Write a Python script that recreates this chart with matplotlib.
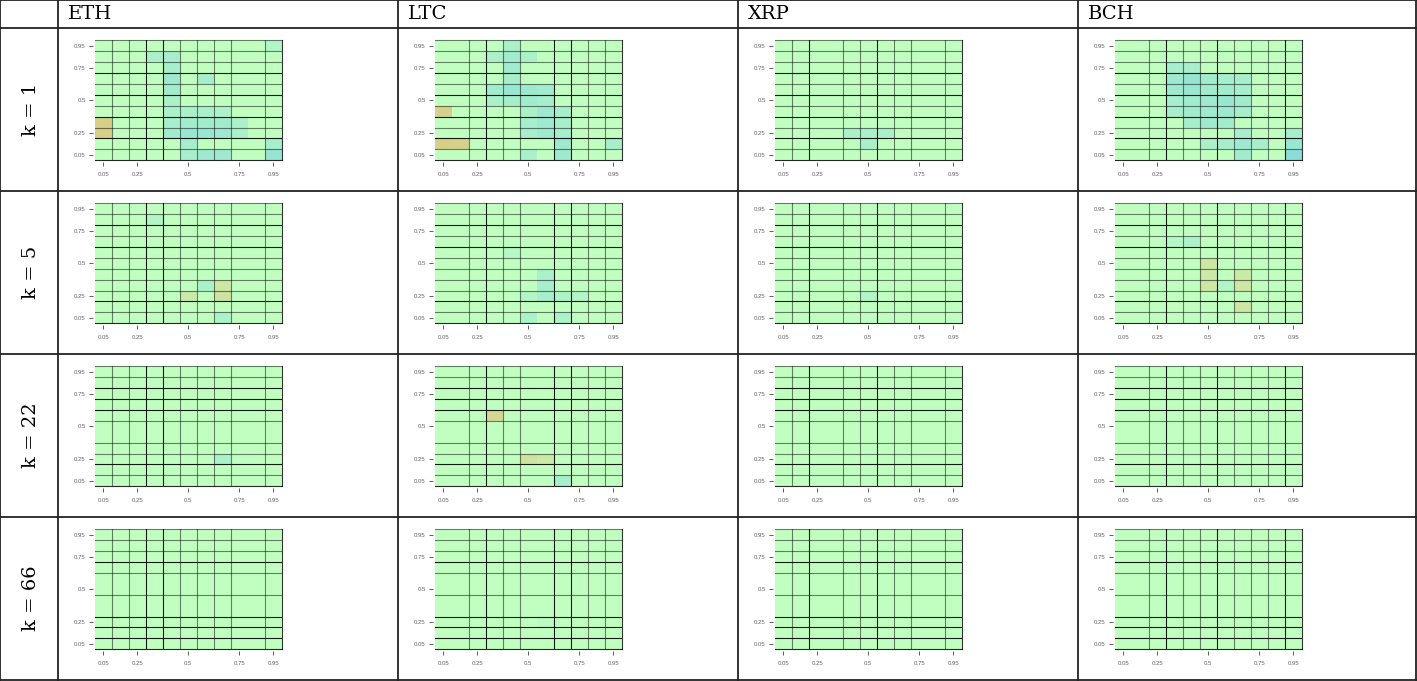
import matplotlib.pyplot as plt
import numpy as np
from matplotlib.colors import LinearSegmentedColormap

# table layout
currencies = ['ETH', 'LTC', 'XRP', 'BCH']
lags = [1, 5, 22, 66]

# quantile grid: 11 levels, cells of width 0.09
edges = 0.005 + 0.09 * np.arange(12)
tick_pos = [0.05, 0.23, 0.5, 0.77, 0.95]
tick_lab = ['0.05', '0.25', '0.5', '0.75', '0.95']

# grid line styles at the 10 inner boundaries (0 none, 1 grey, 2 black)
vlines = {
    'ETH': [1, 1, 2, 2, 1, 1, 1, 1, 0, 1],
    'LTC': [0, 1, 2, 1, 1, 0, 2, 2, 1, 1],
    'XRP': [1, 2, 0, 1, 1, 2, 1, 1, 0, 1],
    'BCH': [0, 1, 2, 1, 1, 2, 1, 1, 1, 2],
}
hlines = {
    1: [1, 2, 1, 2, 1, 2, 1, 2, 1, 1],
    5: [1, 2, 1, 1, 1, 1, 2, 1, 2, 1],
    22: [1, 2, 1, 1, 0, 1, 2, 2, 2, 1],
    66: [2, 2, 2, 0, 1, 0, 1, 2, 1, 1],
}

# non-zero cells: (x level index, y level index, value); <0 tan, >0 teal
eth_k1 = [(10, 10, 0.2), (3, 9, 0.3), (4, 9, 0.35), (4, 8, 0.35), (4, 7, 0.45),
          (6, 7, 0.35), (4, 6, 0.4), (4, 5, 0.3), (4, 4, 0.3), (5, 4, 0.3),
          (6, 4, 0.3), (7, 4, 0.25), (0, 3, -0.8), (4, 3, 0.35), (5, 3, 0.4),
          (6, 3, 0.4), (7, 3, 0.4), (8, 3, 0.3), (0, 2, -0.8), (4, 2, 0.4),
          (5, 2, 0.5), (6, 2, 0.5), (7, 2, 0.45), (8, 2, 0.3), (5, 1, 0.35),
          (10, 1, 0.35), (5, 0, 0.35), (6, 0, 0.45), (7, 0, 0.45), (10, 0, 0.55)]
ltc_k1 = [(4, 10, 0.3), (3, 9, 0.3), (4, 9, 0.4), (5, 9, 0.3), (4, 8, 0.4),
          (4, 7, 0.35), (3, 6, 0.4), (4, 6, 0.5), (5, 6, 0.45), (6, 6, 0.4),
          (3, 5, 0.3), (4, 5, 0.35), (5, 5, 0.4), (6, 5, 0.35), (0, 4, -0.75),
          (5, 4, 0.3), (6, 4, 0.45), (7, 4, 0.35), (5, 3, 0.35), (6, 3, 0.45),
          (7, 3, 0.35), (5, 2, 0.35), (6, 2, 0.45), (7, 2, 0.35), (0, 1, -0.8),
          (1, 1, -0.75), (7, 1, 0.45), (10, 1, 0.35), (5, 0, 0.3), (7, 0, 0.45)]
xrp_k1 = [(4, 2, 0.3), (5, 2, 0.3), (6, 2, 0.3), (5, 1, 0.3)]
bch_k1 = [(3, 8, 0.35), (4, 8, 0.35), (3, 7, 0.45), (4, 7, 0.55), (5, 7, 0.4),
          (6, 7, 0.35), (7, 7, 0.35), (3, 6, 0.45), (4, 6, 0.5), (5, 6, 0.4),
          (6, 6, 0.4), (7, 6, 0.35), (3, 5, 0.35), (4, 5, 0.4), (5, 5, 0.45),
          (6, 5, 0.5), (7, 5, 0.4), (3, 4, 0.35), (4, 4, 0.4), (5, 4, 0.45),
          (6, 4, 0.45), (7, 4, 0.35), (4, 3, 0.35), (5, 3, 0.45), (6, 3, 0.4),
          (7, 2, 0.35), (10, 2, 0.35), (5, 1, 0.3), (6, 1, 0.35), (7, 1, 0.45),
          (8, 1, 0.35), (10, 1, 0.5), (7, 0, 0.4), (10, 0, 0.7)]
eth_k5 = [(3, 9, 0.2), (6, 3, 0.3), (7, 3, -0.4), (5, 2, -0.35), (7, 2, -0.45),
          (7, 0, 0.25)]
ltc_k5 = [(4, 6, 0.15), (6, 4, 0.3), (6, 3, 0.35), (6, 2, 0.35), (5, 2, 0.2),
          (7, 2, 0.25), (8, 2, 0.2), (5, 0, 0.25), (7, 0, 0.25)]
xrp_k5 = [(5, 2, 0.2)]
bch_k5 = [(3, 7, 0.15), (4, 7, 0.25), (5, 5, -0.4), (5, 4, -0.35), (5, 3, -0.4),
          (6, 3, 0.2), (7, 4, -0.35), (7, 3, -0.4), (7, 1, -0.4)]
eth_k22 = [(7, 2, 0.3)]
ltc_k22 = [(3, 6, -0.65), (5, 2, -0.45), (6, 2, -0.35), (7, 0, 0.35)]
xrp_k22 = []
bch_k22 = []
eth_k66 = []
ltc_k66 = [(6, 2, 0.08)]
xrp_k66 = []
bch_k66 = []

cells = {
    ('ETH', 1): eth_k1, ('LTC', 1): ltc_k1, ('XRP', 1): xrp_k1, ('BCH', 1): bch_k1,
    ('ETH', 5): eth_k5, ('LTC', 5): ltc_k5, ('XRP', 5): xrp_k5, ('BCH', 5): bch_k5,
    ('ETH', 22): eth_k22, ('LTC', 22): ltc_k22, ('XRP', 22): xrp_k22, ('BCH', 22): bch_k22,
    ('ETH', 66): eth_k66, ('LTC', 66): ltc_k66, ('XRP', 66): xrp_k66, ('BCH', 66): bch_k66,
}

cmap = LinearSegmentedColormap.from_list('q', [(0, '#dcc27a'), (0.5, '#c1ffc1'), (1, '#74cfe0')])
line_alpha = {1: 0.5, 2: 0.9}

W, H = 1417, 681
col_edges = [0, 58, 398, 738, 1078, 1416]
row_edges = [0, 28, 191, 354, 517, 680]

fig = plt.figure(figsize=(W / 100, H / 100), dpi=100)

# table frame
bg = fig.add_axes([0, 0, 1, 1])
bg.set_xlim(0, W)
bg.set_ylim(H, 0)
bg.axis('off')
for x in col_edges:
    bg.plot([x, x], [0, H], color='#222222', lw=1.3, solid_capstyle='butt')
for y in row_edges:
    bg.plot([0, W], [y, y], color='#222222', lw=1.3, solid_capstyle='butt')
for c, name in enumerate(currencies):
    bg.text(col_edges[c + 1] + 10, 14, name, family='DejaVu Serif', fontsize=14,
            ha='left', va='center', color='black')
for r, k in enumerate(lags):
    bg.text(31, (row_edges[r + 1] + row_edges[r + 2]) / 2, 'k = %d' % k,
            family='DejaVu Serif', fontsize=14, rotation=90, ha='center', va='center')

for r, k in enumerate(lags):
    for c, name in enumerate(currencies):
        left = col_edges[c + 1] + 36.8
        top = row_edges[r + 1] + 12.3
        ax = fig.add_axes([left / W, 1 - (top + 120) / H, 187 / W, 120 / H])
        Z = np.zeros((11, 11))
        for i, j, v in cells[(name, k)]:
            Z[j, i] = v
        ax.pcolormesh(edges, edges, Z, cmap=cmap, vmin=-1, vmax=1, shading='flat')
        for b, lev in enumerate(vlines[name]):
            if lev:
                ax.axvline(edges[b + 1], color='black', alpha=line_alpha[lev], lw=0.8)
        for b, lev in enumerate(hlines[k]):
            if lev:
                ax.axhline(edges[b + 1], color='black', alpha=line_alpha[lev], lw=0.8)
        ax.axvline(edges[11], color='black', alpha=0.8, lw=0.8, clip_on=False)
        ax.axhline(edges[11], color='black', alpha=0.5, lw=0.8, clip_on=False)
        ax.axhline(edges[0], color='black', alpha=0.85, lw=0.8, clip_on=False)
        ax.set_xlim(edges[0], edges[11])
        ax.set_ylim(edges[0], edges[11])
        for s in ax.spines.values():
            s.set_visible(False)
        ax.spines['left'].set_position(('outward', 1.5))
        ax.spines['bottom'].set_position(('outward', 1.5))
        ax.set_xticks(tick_pos)
        ax.set_xticklabels(tick_lab)
        ax.set_yticks(tick_pos)
        ax.set_yticklabels(tick_lab)
        ax.tick_params(length=3, width=0.6, color='#444444', labelsize=4.3,
                       labelcolor='#666666', labelfontfamily='Liberation Sans')
        ax.tick_params(axis='x', pad=4)
        ax.tick_params(axis='y', pad=2)

fig.savefig('out.png', dpi=100)
